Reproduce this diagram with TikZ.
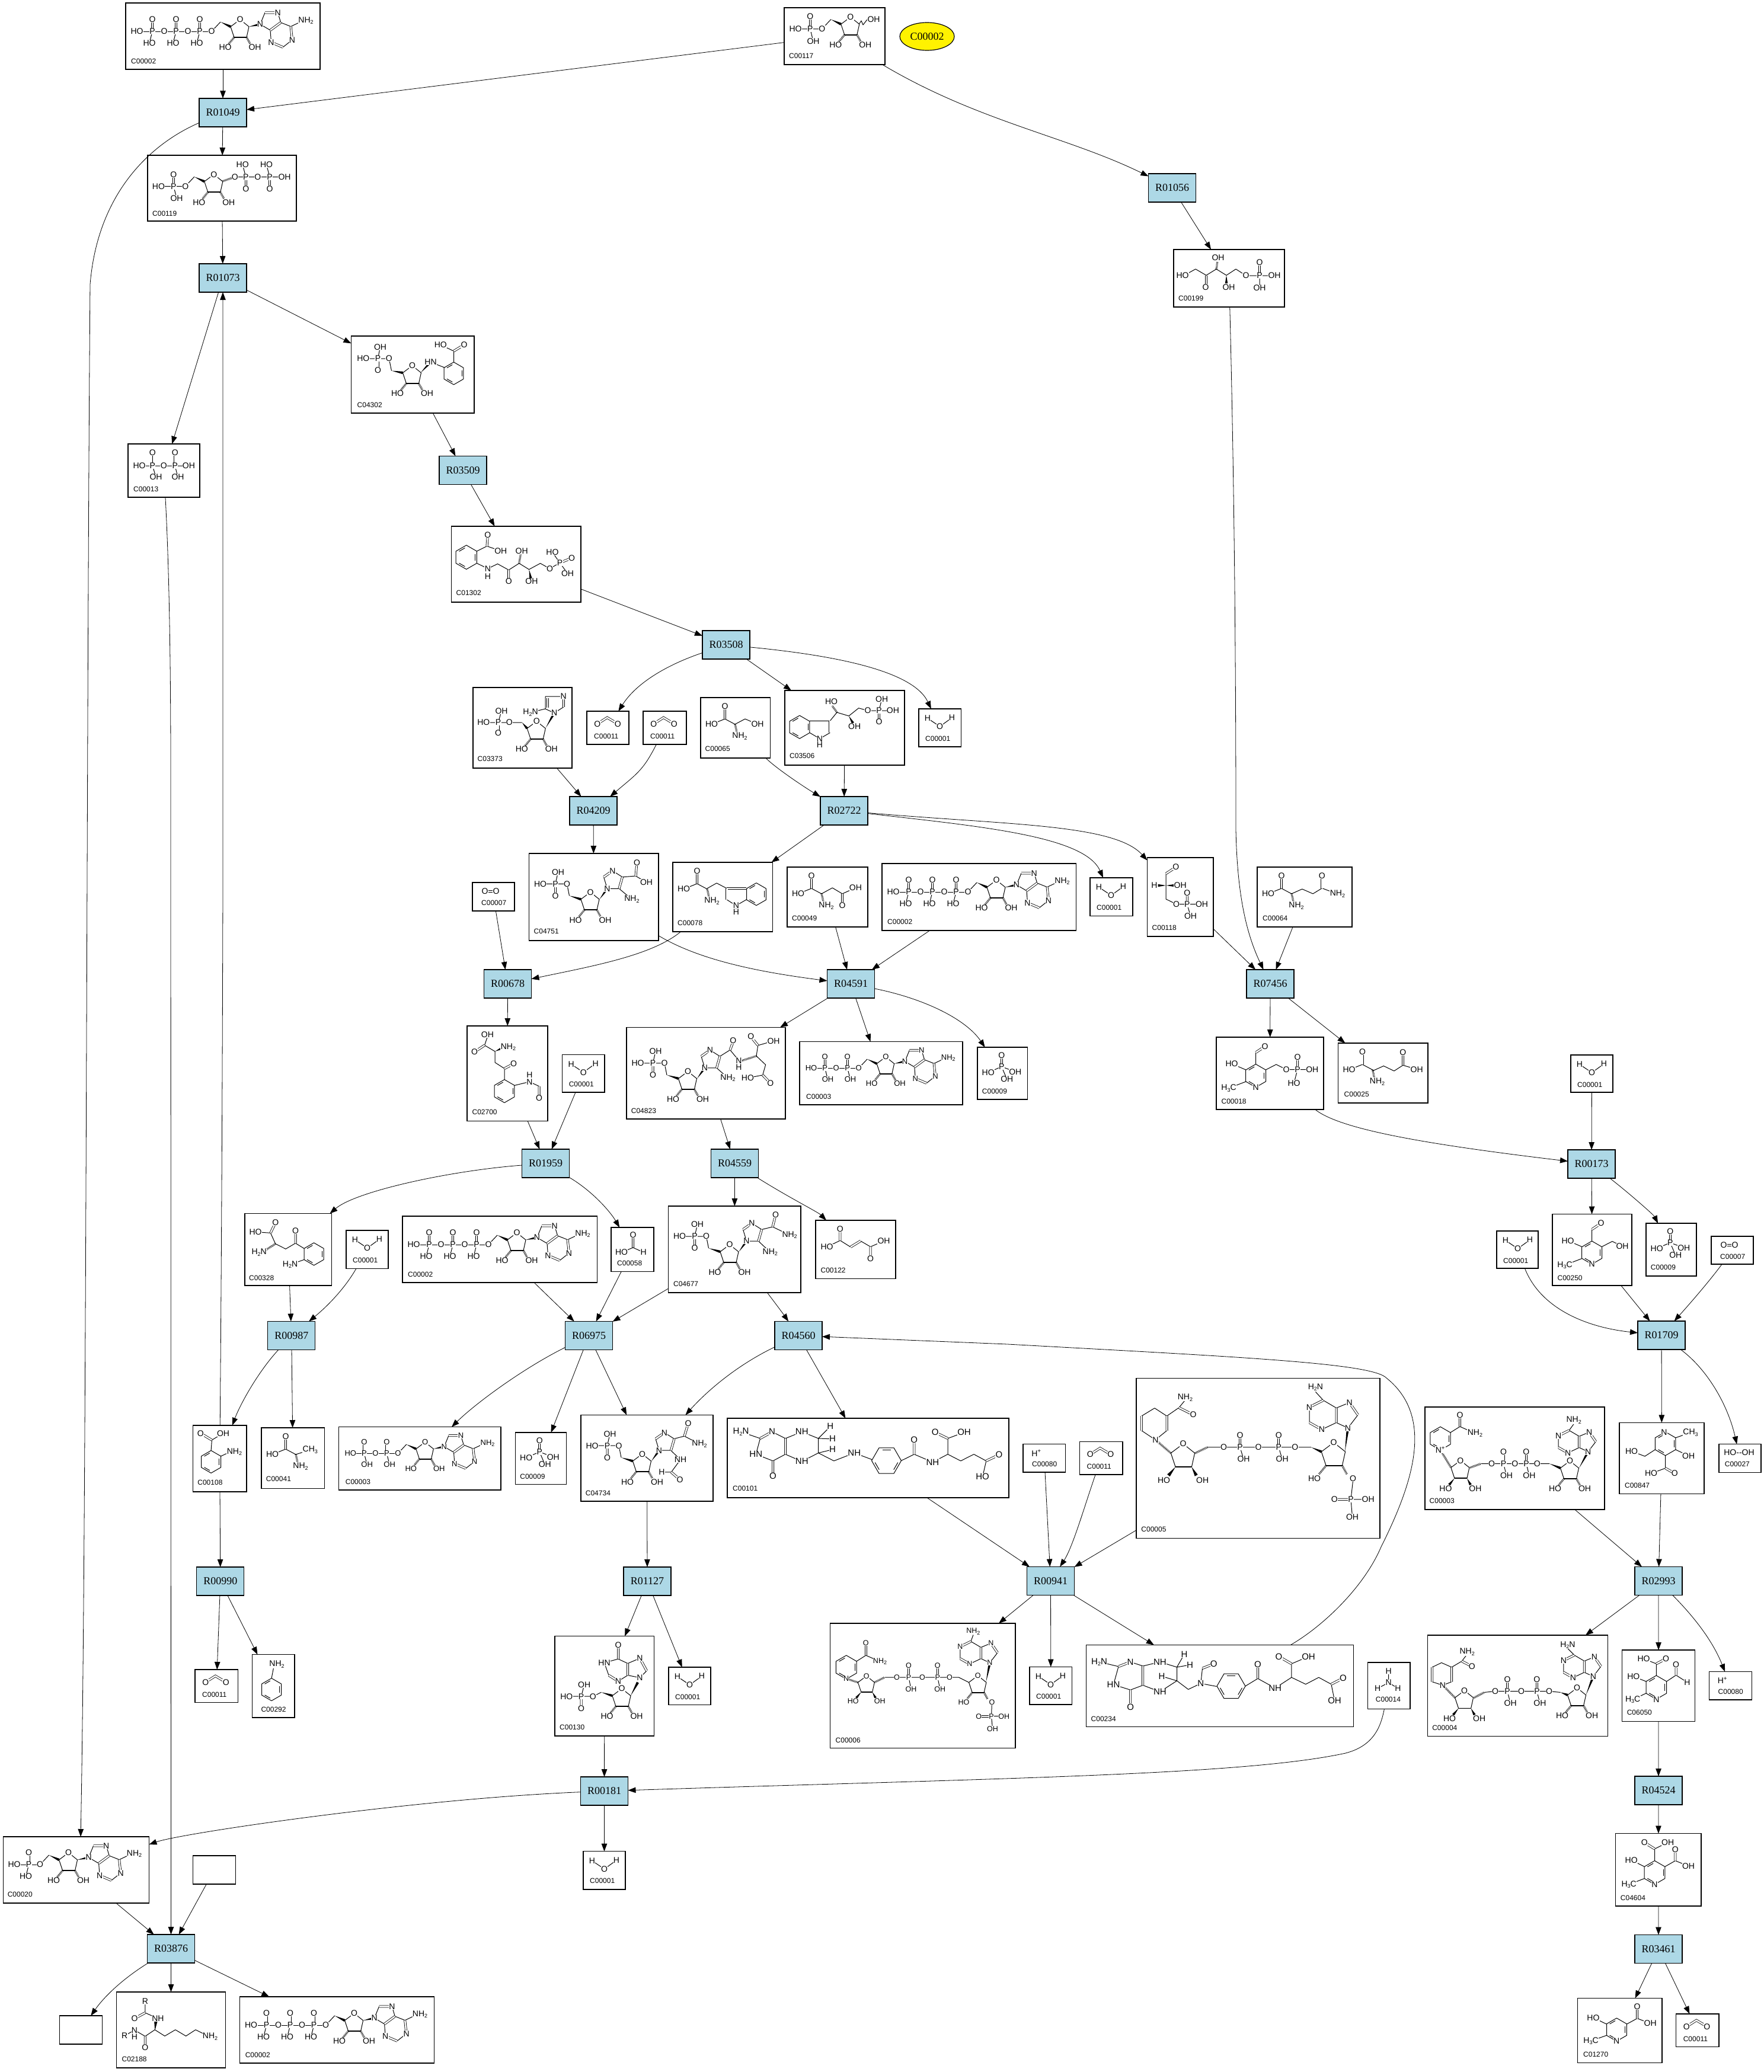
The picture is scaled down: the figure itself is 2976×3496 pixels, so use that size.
\documentclass[tikz,border=0pt]{standalone}
\usepackage{fontspec}
\usetikzlibrary{arrows.meta,calc,shapes.geometric}
\newfontfamily\atomfont{Liberation Sans}
\newfontfamily\rxnfont{Liberation Serif}
\def\atomsize{14}
\tikzset{
	rxn/.style={draw,line width=1.2pt,fill=lightblue,minimum width=80pt,minimum height=48pt,inner sep=0pt,outer sep=0pt,font=\rxnfont\fontsize{18}{18}\selectfont},
	cpd/.style={draw,line width=1.2pt,fill=white,inner sep=0pt,outer sep=0pt},
	atom/.style={fill=white,inner sep=.4pt,font=\atomfont\fontsize{\atomsize}{\atomsize}\selectfont},
	idlabel/.style={anchor=west,inner sep=0pt,font=\atomfont\fontsize{12}{12}\selectfont},
	bond/.style={line width=1pt,line join=round},
	dbond/.style={double,double distance=2.4pt,line width=.8pt},
	hashed/.style={line width=3.4pt,dash pattern=on .9pt off 1.3pt},
	link/.style={-{Triangle[length=13pt,width=9.5pt]},line width=.8pt}
}
\definecolor{lightblue}{HTML}{ADD8E6}
\newcommand{\sbs}[1]{\raisebox{-2.5pt}{\fontsize{9}{9}\selectfont #1}}
\newcommand{\nhh}{NH\sbs{2}}
\newcommand{\hhn}{H\sbs{2}N}
\newcommand{\hhhc}{H\sbs{3}C}
\newcommand{\chhh}{CH\sbs{3}}
\newcommand{\atoms}[1]{\foreach \ax/\ay/\at [count=\an] in {#1} \node[atom] (atom\an) at (\ax,\ay) {\at};}
\newcommand{\cid}[3]{\node[idlabel] (id#3) at (#1,#2) {#3};}
\newcommand{\wdg}[2]{\fill (#1) -- ($(#2)!2.2pt!90:(#1)$) -- ($(#2)!2.2pt!-90:(#1)$) -- cycle;}
\newcommand{\hsh}[2]{\draw[hashed] (#1) -- (#2);}
\newcommand{\hexring}[4]{\begin{scope}[shift={(#1,#2)}]
	\draw[bond] (#4:#3) -- (#4+60:#3) -- (#4+120:#3) -- (#4+180:#3) -- (#4+240:#3) -- (#4+300:#3) -- cycle;
	\foreach \ra in {0,120,240} \draw[bond] (#4+\ra+9:.78*#3) -- (#4+\ra+51:.78*#3);
	\end{scope}}
% P with =O above and a single bond below
\newcommand{\phos}[4]{
	\draw[dbond] (#1,#2) -- (#1,#2-20);
	\draw[bond] (#1,#2) -- (#1+#3,#2+20);
	\atoms{#1/#2/P,#1/#2-20/O,#1+#3/#2+20/#4}}
\newcommand{\ribring}[5]{\begin{scope}[shift={(#1,#2)},scale=#3]
	\draw[bond] (0,0) -- (16,-12) -- (31,0) -- (27,18) -- (6,18) -- cycle;
	\draw[line width=1.8pt] (6,18) -- (27,18);
	#4{6,18}{-3,29}
	#4{27,18}{33,29}
	\atoms{16/-12/O,-9/35/HO,41/35/#5}
	\end{scope}}
\newcommand{\ribo}[2]{\begin{scope}[shift={(#1,#2)}]
	\draw[bond] (0,0) -- (15,-16);
	\wdg{15,-16}{32,-8}
	\ribring{32}{-8}{1}{\hsh}{OH}
	\atoms{0/0/O}
	\end{scope}}
\newcommand{\adeR}[2]{\begin{scope}[shift={(#1,#2)}]
	\draw[bond] (0,0) -- (8,-19.7) (29.7,-19.7) -- (34.7,-3) (17,10) -- (0,0) (17,10) -- (18.5,30.3) (38.3,38.7) -- (54,26.3) (51.6,3.7) -- (34.7,-3) (51.6,3.7) -- (70,-5);
	\draw[dbond] (8,-19.7) -- (29.7,-19.7) (34.7,-3) -- (17,10) (18.5,30.3) -- (38.3,38.7) (54,26.3) -- (51.6,3.7);
	\atoms{0/0/N,29.7/-19.7/N,18.5/30.3/N,54/26.3/N,77/-6.3/\nhh}
	\end{scope}}
\newcommand{\adeU}[5]{\begin{scope}[shift={(#1,#2)},scale=#3]
	\draw[bond] (0,0) -- (13,-17) (2,-33) -- (-15,-26) (-15,-7) -- (0,0) (-15,-7) -- (-34,2) (-50,-7) -- (-50,-27) (-32,-36) -- (-15,-26) (-32,-36) -- (#4,-47);
	\draw[dbond] (13,-17) -- (2,-33) (-15,-26) -- (-15,-7) (-34,2) -- (-50,-7) (-50,-27) -- (-32,-36);
	\atoms{0/0/N,2/-33/N,-34/2/N,-50/-27/N,#4/-53/#5}
	\end{scope}}
\newcommand{\adenosine}[2]{\begin{scope}[shift={(#1,#2)}]
	\wdg{63,-8}{82,-12}
	\adeR{82}{-12}
	\end{scope}\ribo{#1}{#2}}
% phosphoribosyl part with the imidazole ring, y of P as argument
\newcommand{\ribotide}[1]{\begin{scope}[shift={(0,#1)}]
	\draw[bond] (19,0) -- (64,0) -- (68,20) (44.5,0) -- (49,-20) (132,8) -- (126,-11.5) (141,-22) -- (157.5,-11.5) (152,8) -- (132,8);
	\draw[dbond] (44.5,0) -- (44.5,20) (126,-11.5) -- (141,-22) (157.5,-11.5) -- (152,8);
	\wdg{68,20}{87.5,26}
	\ribring{87.5}{26}{1}{\hsh}{OH}
	\wdg{119,26}{132,8}
	\atoms{19/0/HO,44.5/0/P,49/-20/OH,44.5/20/O,64/0/O,132/8/N,141/-22/N}
	\end{scope}}
\newcommand{\aminoacid}{
	\draw[bond] (18.5,45) -- (41,36) -- (58,45);
	\draw[dbond] (41,36) -- (41,15);
	\hsh{58,45}{61,58}
	\atoms{18.5/45/HO,41/15/O,66/65/\nhh}}
% small molecules
\newcommand{\molWater}{
	\draw[bond] (15,16) -- (35.6,29.7) -- (56,15);
	\atoms{15/16/H,35.6/29.7/O,56/15/H}
	\cid{11}{50}{C00001}}
\newcommand{\molCOO}{
	\draw[dbond] (17.8,21.3) -- (34.4,10.7) -- (52.2,21.3);
	\atoms{17.8/21.3/O,52.2/21.3/O}
	\cid{12}{42}{C00011}}
\newcommand{\molOO}{
	\draw[dbond] (21,14.7) -- (40,14.7);
	\atoms{21/14.7/O,40/14.7/O}
	\cid{15}{34}{C00007}}
\newcommand{\molHplus}{
	\atoms{22.5/15/H\textsuperscript{+}}
	\cid{15}{33.5}{C00080}}
\newcommand{\molPeroxide}{
	\atoms{34/14.3/HO--OH}
	\cid{9.6}{33.5}{C00027}}
\newcommand{\molAmmonia}{
	\draw[bond] (35,15) -- (35,34) -- (16.5,43.7) (35,34) -- (50.8,43.7);
	\atoms{35/14.7/H,35/34/N,16.5/43.7/H,50.8/43.7/H}
	\cid{13}{62.5}{C00014}}
\newcommand{\molPi}{
	\draw[bond] (40.7,32.7) -- (18.2,42.5) (40.7,32.7) -- (63.8,41.3) (40.7,32.7) -- (49.8,54);
	\draw[dbond] (40.7,32.7) -- (40.7,13.8);
	\atoms{40.7/13.8/O,40.7/32.7/P,18.2/42.5/HO,63.8/41.3/OH,49.8/54/OH}
	\cid{7.7}{74}{C00009}}
\newcommand{\molFormate}{
	\draw[dbond] (37,12.5) -- (37,34);
	\draw[bond] (17.5,42) -- (37,34) -- (54.7,42);
	\atoms{37/12.5/O,17.5/42/HO,54.7/42/H}
	\cid{10}{60.7}{C00058}}
\newcommand{\molPPi}{
	\draw[bond] (19,37) -- (102.4,37) (41.4,37) -- (41.4,14.7) (41.4,37) -- (47,56) (79.3,37) -- (84,56);
	\draw[dbond] (79.3,37) -- (79.3,14.7);
	\atoms{19/37/HO,41.4/37/P,41.4/14.7/O,47/56/OH,60.3/37/O,79.3/37/P,79.3/14.7/O,84/56/OH,102.4/37/OH}
	\cid{9}{76}{C00013}}
% nucleotides
\newcommand{\molATP}{
	\draw[bond] (19,48) -- (145,48);
	\phos{45}{48}{-5}{HO}\phos{85}{48}{-5}{HO}\phos{125}{48}{-5}{HO}
	\atoms{19/48/HO,65/48/O,105/48/O}
	\adenosine{145}{48}
	\cid{9}{98}{C00002}}
\newcommand{\molADP}{
	\begin{scope}[scale=.95]\def\atomsize{13}
	\draw[bond] (20.6,47) -- (105,47);
	\phos{45}{47}{5}{OH}\phos{85}{47}{5}{OH}
	\atoms{20.6/47/HO,65/47/O}
	\adenosine{105}{47}
	\end{scope}
	\cid{11}{92.4}{C00003}}
\newcommand{\molAMP}{
	\draw[bond] (18.4,47) -- (62,47);
	\phos{43}{47}{-5}{HO}
	\atoms{18.4/47/HO}
	\adenosine{62}{47}
	\cid{7}{97}{C00020}}
\newcommand{\molRibP}{
	\draw[bond] (19,35.8) -- (63.8,35.8) (43.9,35.8) -- (49,56.8);
	\draw[dbond] (43.9,35.8) -- (43.9,14.7);
	\atoms{19/35.8/HO,43.9/35.8/P,43.9/14.7/O,49/56.8/OH}
	\ribo{63.8}{35.8}
	\draw[bond] (126,28) -- (130,22) -- (133,29) -- (140,20);
	\atoms{151/20/OH}
	\cid{8}{81.4}{C00117}}
\newcommand{\molPRPP}{
	\draw[bond] (18.4,52.3) -- (63.8,52.3) (43.9,52.3) -- (49,72.3);
	\draw[dbond] (43.9,52.3) -- (43.9,32.3);
	\atoms{18.4/52.3/HO,43.9/52.3/P,43.9/32.3/O,49/72.3/OH}
	\ribo{63.8}{52.3}
	\hsh{126,44}{147,36.7}
	\draw[bond] (147.4,36.7) -- (231,36.7) (165.8,36.7) -- (160.2,15.7) (206,36.7) -- (200.5,15.7);
	\draw[dbond] (165.8,36.7) -- (165.8,56.7) (206,36.7) -- (206,56.7);
	\atoms{147.4/36.7/O,165.8/36.7/P,160.2/15.7/HO,165.8/56.7/O,185.7/36.7/O,206/36.7/P,200.5/15.7/HO,206/56.7/O,231/36.7/OH}
	\cid{8}{98}{C00119}}
\newcommand{\molPRA}{
	\draw[bond] (20.3,38) -- (63.8,38) -- (68,58.5) (45,38) -- (49,18.3);
	\draw[dbond] (45,38) -- (45,57.6);
	\wdg{68,58.5}{87,62}
	\ribring{87}{62}{1}{\hsh}{OH}
	\wdg{117,62}{134,44}
	\draw[bond] (134,44) -- (157,53);
	\hexring{173}{63}{19}{90}
	\draw[bond] (173,44) -- (173,25.4) -- (150.8,14.7);
	\draw[dbond] (173,25.4) -- (190.5,14.7);
	\atoms{20.3/38/HO,45/38/P,49/18.3/OH,45/57.6/O,63.8/38/O,134/44/HN,150.8/14.7/HO,190.5/14.7/O}
	\cid{10}{116.5}{C04302}}
\newcommand{\molCDRP}{
	\hexring{25.3}{52.2}{20.3}{90}
	\draw[bond] (42.9,42) -- (60,33.5) -- (83.3,41.5) (42.9,62.3) -- (61.4,71.4) -- (78,63.4) -- (96.7,73.7) -- (114.3,62.5) -- (131,72.8) -- (150,62.5) -- (166,71.4) -- (183,61.6) -- (170.4,43.8) (183,61.6) -- (196,79.5);
	\draw[dbond] (60,33.5) -- (61.4,14.7) (96.7,73.7) -- (96.7,92.9) (183,61.6) -- (203,53.6);
	\hsh{114.3,62.5}{117,46}
	\wdg{131,72.8}{134,88}
	\atoms{61.4/14.7/O,83.3/41.5/OH,61.4/71.4/N,61.4/84.8/H,96.7/92.9/O,118.7/41.5/OH,135.4/92.9/OH,166/71.4/O,183/61.6/P,170.4/43.8/HO,203/53.6/O,196/79.5/OH}
	\cid{8}{112.5}{C01302}}
\newcommand{\molAIRP}{
	\draw[bond] (17.8,59) -- (82.7,59) (42.5,59) -- (48,39.7) (122,36) -- (137,43) (122,36) -- (122,15) (122,15) -- (152.7,15) (152.7,33) -- (137,43) (122,36) -- (97,42);
	\draw[dbond] (42.5,59) -- (42.5,77) (152.7,15) -- (152.7,33) (126,18) -- (126,34);
	\wdg{82.7,59}{91.3,69}
	\ribring{91.3}{69}{1}{\hsh}{OH}
	\wdg{122.8,68}{137,43}
	\atoms{17.8/59/HO,42.5/59/P,48/39.7/OH,42.5/77/O,61.4/59/O,137.2/43/N,97/42/\hhn,152.7/14.7/N}
	\cid{7.5}{120.7}{C03373}}
\newcommand{\molIGP}{
	\hexring{25}{61.7}{19.5}{90}
	\draw[bond] (42,51.3) -- (76.3,51.3) (76.3,71.3) -- (59,81.3) -- (42,71.3) (76.3,51.3) -- (88,37) -- (108,43) -- (124.6,29.7) -- (140,34) -- (182.4,34) (159,34) -- (163.6,14.7) (59,81.3) -- (59,92);
	\draw[dbond] (76.3,51.3) -- (76.3,71.3) (159,34) -- (159,53);
	\hsh{88,37}{80,26}
	\wdg{108,43}{115,55}
	\atoms{59/81.3/N,59/92/H,78.5/19/HO,117.7/60.7/OH,140/34/O,159/34/P,163.6/14.7/OH,182.4/34/OH,159/53/O}
	\cid{8}{110.7}{C03506}}
\newcommand{\molSer}{
	\draw[bond] (58,45) -- (75,36) -- (96,45);
	\aminoacid
	\atoms{96/45/OH}
	\cid{7.5}{86.7}{C00065}}
\newcommand{\molTrp}{
	\draw[bond] (58,44) -- (74,35) -- (91.3,44) (91.3,63) -- (106.8,73) -- (124,63) (106.8,73) -- (106.8,84);
	\draw[dbond] (91.3,44) -- (91.3,63) (91.3,44) -- (124,44);
	\hexring{141}{53.7}{19}{90}
	\aminoacid
	\atoms{106.8/73/N,106.8/84/H}
	\cid{8}{102.7}{C00078}}
\newcommand{\molAsp}{
	\draw[bond] (58,45) -- (76.3,35) -- (93,45) -- (115.4,35);
	\draw[dbond] (93,45) -- (93,64.3);
	\aminoacid
	\atoms{115.4/35/OH,93/64.3/O}
	\cid{8}{86.7}{C00049}}
\newcommand{\molGln}{
	\draw[bond] (58,45) -- (75.8,37) -- (94,45) -- (109.4,35.6) -- (135.4,45.4);
	\draw[dbond] (109.4,35.6) -- (109.4,15);
	\aminoacid
	\atoms{109.4/15/O,135.4/45.4/\nhh}
	\cid{9}{86.7}{C00064}}
\newcommand{\molGlu}{
	\draw[bond] (58,47) -- (76.8,38.5) -- (94.4,47) -- (109.4,37.3) -- (132.6,44.2);
	\draw[dbond] (109.4,37.3) -- (109.4,15.5);
	\aminoacid
	\atoms{109.4/15.5/O,132.6/44.2/OH}
	\cid{10}{86.7}{C00025}}
\newcommand{\molAla}{
	\draw[bond] (58,45) -- (82.3,37.3);
	\aminoacid
	\atoms{82.3/37.3/\chhh}
	\cid{7.7}{86.7}{C00041}}
\newcommand{\molGAP}{
	\draw[bond] (31.6,27) -- (31.6,70) -- (49,78.6) -- (92,78.6) (67.3,78.6) -- (73,98.7);
	\draw[dbond] (31.6,27) -- (48.4,16) (67.3,78.6) -- (67.3,59.7);
	\wdg{31.6,47}{18,47}
	\wdg{31.6,47}{46,47}
	\atoms{48.4/16/O,12/47/H,55.6/47/OH,49/78.6/O,67.3/78.6/P,67.3/59.7/O,92/78.6/OH,73/98.7/OH}
	\cid{8}{118.8}{C00118}}
\newcommand{\molPLP}{
	\hexring{66.6}{65}{19.5}{90}
	\draw[bond] (66.6,45.5) -- (66.6,25.8) (49.7,55) -- (26,44.8) (49.7,75) -- (21,86) (83.5,55) -- (101,46) -- (118,54.5) -- (161.8,54.5) (137,54.5) -- (131,77.5);
	\draw[dbond] (66.6,25.8) -- (82,15.5) (137,54.5) -- (137,33.3);
	\atoms{82/15.5/O,26/44.8/HO,21/86/\hhhc,66.6/84.5/N,118/54.5/O,137/54.5/P,137/33.3/O,161.8/54.5/OH,131/77.5/HO}
	\cid{8.4}{108}{C00018}}
\newcommand{\molPyridoxal}{
	\hexring{66.6}{65}{19.5}{90}
	\draw[bond] (66.6,45.5) -- (66.6,25.8) (49.7,55) -- (26,44.8) (49.7,75) -- (21,86) (83.5,55) -- (101,46) -- (115,53);
	\draw[dbond] (66.6,25.8) -- (82,15.5);
	\atoms{82/15.5/O,26/44.8/HO,21/86/\hhhc,66.6/84.5/N,118/54.5/OH}
	\cid{8.4}{108}{C00250}}
\newcommand{\molPdxAcid}{
	\hexring{77.6}{35.5}{20}{90}
	\draw[bond] (94.9,25.5) -- (120,16.5) (94.9,45.5) -- (116.7,55.8) (60.3,45.5) -- (43,56.7) -- (20.6,48.2) (77.6,55.5) -- (77.6,76.8) -- (53.5,85.7);
	\draw[dbond] (77.6,76.8) -- (93.4,85.7);
	\atoms{75.5/16.5/N,120/16.5/\chhh,116.7/55.8/OH,20.6/48.2/HO,53.5/85.7/HO,93.4/85.7/O}
	\cid{8.9}{105.8}{C00847}}
\newcommand{\molFormylAcid}{
	\hexring{57.7}{63}{20}{90}
	\draw[bond] (57.7,43) -- (57.7,23.2) -- (36.4,14.7) (40.4,53) -- (19.2,44.6) (40.4,73) -- (18,83.5) (75,53) -- (91,42.4) -- (109.8,54.5);
	\draw[dbond] (57.7,23.2) -- (74,14.7) (91,42.4) -- (91,24.6);
	\atoms{36.4/14.7/HO,74/14.7/O,19.2/44.6/HO,18/83.5/\hhhc,57.7/83.5/N,91/24.6/O,109.8/54.5/H}
	\cid{8}{105.8}{C06050}}
\newcommand{\molDicarb}{
	\hexring{65.8}{66}{20}{90}
	\draw[bond] (65.8,46) -- (65.8,26) -- (87.9,15.2) (48.5,56) -- (26.5,45) (48.5,76) -- (22.4,86) (83.1,56) -- (100.7,46) -- (122.8,55);
	\draw[dbond] (65.8,26) -- (48.5,15.2) (100.7,46) -- (100.7,27);
	\atoms{48.5/15.2/O,87.9/15.2/OH,26.5/45/HO,22.4/86/\hhhc,65.8/86/N,100.7/27/O,122.8/55/OH}
	\cid{8}{108.7}{C04604}}
\newcommand{\molHMP}{
	\hexring{66}{53}{19.5}{90}
	\draw[bond] (49,43.7) -- (26.5,32.7) (49,62.7) -- (22.6,72) (83,43.7) -- (100.7,34) -- (122.8,42.6);
	\draw[dbond] (100.7,34) -- (100.7,14.4);
	\atoms{26.5/32.7/HO,22.6/72/\hhhc,65.8/72/N,100.7/14.4/O,122.8/42.6/OH}
	\cid{9.6}{95}{C01270}}
\newcommand{\molKyn}{
	\draw[bond] (34.4,18) -- (29.5,32.6) -- (47,43) -- (47,61.6) -- (63,71.9) -- (63,90.6) (80,100.4) -- (105.3,94.2) -- (121.5,101.8);
	\draw[dbond] (29.5,32.6) -- (12.6,43.8) (63,71.9) -- (78.6,63.8) (121.5,101.8) -- (121.5,121.9);
	\wdg{47,43}{60,37}
	\hexring{63}{110}{19.5}{90}
	\atoms{34.4/14.3/OH,12.6/43.8/O,69.4/35.7/\nhh,78.6/63.8/O,105.3/94.2/N,105.3/82.6/H,121.5/121.9/O}
	\cid{8.4}{145}{C02700}}
\newcommand{\molAPAldo}{
	\draw[bond] (18,31) -- (43.4,32.7) -- (51.7,51) -- (69,59.7) -- (85.5,50) (85.5,50) -- (99.9,58.8) (100,77.8) -- (76.5,86);
	\draw[dbond] (43.4,32.7) -- (51.7,15.5) (85.5,50) -- (85.5,28.7);
	\hsh{51.7,51}{36,61}
	\hexring{116.6}{68.3}{19}{90}
	\atoms{51.7/15.5/O,18/31/HO,24.2/65.4/\hhn,85.5/28.7/O,76.5/86/\hhn}
	\cid{7}{108.5}{C00328}}
\newcommand{\molAnthranilate}{
	\draw[bond] (30.6,42.4) -- (31.9,24.7) -- (51,13.2) (47,52) -- (60,46);
	\draw[dbond] (31.9,24.7) -- (12.8,13.2);
	\hexring{30.6}{61.4}{19}{90}
	\atoms{12.8/13.2/O,51/13.2/OH,70/44.8/\nhh}
	\cid{7.7}{96.4}{C00108}}
\newcommand{\molFumarate}{
	\draw[bond] (19,45) -- (41.4,34) -- (59,45) (75.8,34.8) -- (92.6,44.6) -- (115,34.8);
	\draw[dbond] (41.4,34) -- (41.4,14.7) (59,45) -- (75.8,34.8) (92.6,44.6) -- (92.6,64.7);
	\atoms{41.4/14.7/O,19/45/HO,115/34.8/OH,92.6/64.7/O}
	\cid{8.4}{84.8}{C00122}}
\newcommand{\molAniline}{
	\draw[bond] (32.5,40) -- (36,22);
	\hexring{32.5}{59}{19}{90}
	\atoms{41.5/16.6/\nhh}
	\cid{14.7}{92.4}{C00292}}
\newcommand{\molSAICAR}{
	\draw[bond] (157.5,48.8) -- (174.7,38) -- (189.4,55.8) (152,68.3) -- (171,85.3) (221.7,30.4) -- (219,48.2) -- (234.6,63) -- (229.7,80.4) -- (204.4,85.3) (221.7,30.4) -- (248,22.8);
	\draw[dbond] (174.7,38) -- (179.7,24.6) (221.7,30.4) -- (209.8,15.6) (229.7,80.4) -- (242.7,93.8);
	\ribotide{60.3}
	\hsh{219,48.2}{195,56}
	\atoms{179.7/22/O,189.4/55.8/N,189.4/67.4/H,171/85.3/\nhh,209.8/15.6/O,248/22.8/OH,204.4/85.3/HO,242.7/93.8/O}
	\cid{7.7}{140.6}{C04823}}
\newcommand{\molAICARP}{
	\draw[bond] (157.5,39.5) -- (176,35) -- (204.6,48.7) (152,59) -- (171.8,77.7);
	\draw[dbond] (176,35) -- (181,15);
	\ribotide{51}
	\atoms{181/15/O,204.6/48.7/\nhh,171.8/77.7/\nhh}
	\cid{8.4}{131.7}{C04677}}
\newcommand{\molCAIR}{
	\draw[bond] (157.5,39.8) -- (180,38) -- (198,48.7) (152,59.3) -- (173.4,77.3);
	\draw[dbond] (180,38) -- (182,15.7);
	\ribotide{51.3}
	\atoms{182/15.7/O,198/48.7/OH,173.4/77.3/\nhh}
	\cid{8}{131.7}{C04751}}
\newcommand{\molFAICAR}{
	\draw[bond] (157.5,40) -- (174.6,35.6) -- (200,48.8) (152,60) -- (168,75.2) -- (152.4,96.4) -- (136.5,96.4);
	\draw[dbond] (174.6,35.6) -- (181,14.4) (152.4,96.4) -- (167,109);
	\ribotide{51.7}
	\atoms{181/14.4/O,200/48.8/\nhh,168/75.2/NH,136.5/96.4/H,167/109/O}
	\cid{7.7}{132}{C04734}}
\newcommand{\molIMP}{
	\draw[bond] (107,38.5) -- (83.5,44.8) -- (91,66) (107,76) -- (123,66) (123,46) -- (107,38.5) (123,46) -- (143.5,37.3) (155,58.5) -- (143.5,70) -- (123,66) (19.8,101.6) -- (64.4,101.6) -- (78.4,94.7) (44.6,101.6) -- (49.7,82);
	\draw[dbond] (91,66) -- (107,76) (123,66) -- (123,46) (107,38.5) -- (107,15.5) (143.5,37.3) -- (155,58.5) (44.6,101.6) -- (44.6,121.7);
	\wdg{78.4,94.7}{97,100.5}
	\ribring{97}{100.5}{1}{\hsh}{OH}
	\wdg{128,100.5}{140,78}
	\atoms{107/15.5/O,83.5/44.8/HN,107/76/N,143.5/37.3/N,143.5/70/N,49.7/82/OH,19.8/101.6/HO,44.6/101.6/P,44.6/121.7/O,64.4/101.6/O}
	\cid{8}{154}{C00130}}
\newcommand{\molLysR}{
	\draw[bond] (48.5,18) -- (48.5,35) -- (70,44.7) (70,44.7) -- (64.8,63.7) (64.8,63.7) -- (48.5,74.7) -- (30.6,64.3) -- (13.8,73.7) (64.8,63.7) -- (81.6,74.3) -- (99.5,63.7) -- (117.3,74.3) -- (133.6,63.7) -- (150,72);
	\draw[dbond] (48.5,35) -- (30.6,44.7) (48.5,74.7) -- (48.5,93.7);
	\wdg{64.8,63.7}{66,50}
	\atoms{48.5/15.3/R,30.6/44.7/O,70/44.7/NH,48.5/93.7/O,30.6/64.3/N,30.6/75.3/H,13.8/73.7/R,158.2/75.3/\nhh}
	\cid{9}{113.7}{C02188}}
\newcommand{\molTHF}{\def\atomsize{15}
	\draw[bond] (23,22.8) -- (55.5,34) (75.5,22.8) -- (98,34) (98,60.7) -- (77,71.9) -- (48.3,60.7) -- (55.5,34) (98,34) -- (125.8,22.8) -- (153.6,34) -- (173.7,13.8) (153.6,34) -- (177.5,34.8) (153.6,34) -- (153.6,58.5) -- (177.5,52.7) (153.6,58.5) -- (125.8,72.8) -- (98,60.7) (153.6,58.5) -- (179.9,71.9) -- (214.3,58.5) -- (244,69.6) (293.5,71.5) -- (315.3,60.7) -- (346.4,74) -- (372,60.7) -- (372,34) -- (399.5,23.7) (372,60.7) -- (393.8,71.9) -- (416,60.7) -- (436.8,71.9) -- (430.6,98.7);
	\draw[dbond] (55.5,34) -- (75.5,22.8) (98,34) -- (98,60.7) (77,71.9) -- (77,97.8) (315.3,60.7) -- (315.3,36) (372,34) -- (350.7,23.7) (436.8,71.9) -- (458.4,61.6);
	\hexring{268.5}{71.5}{25}{0}
	\atoms{23/22.8/\hhn,75.5/22.8/N,48.3/60.7/HN,77/97.8/O,125.8/22.8/NH,125.8/72.8/NH,173.7/13.8/H,177.5/34.8/H,177.5/52.7/H,214.3/58.5/NH,315.3/36/O,346.4/74/NH,350.7/23.7/O,399.5/23.7/OH,458.4/61.6/O,430.6/98.7/HO}
	\cid{9}{118.8}{C00101}}
\newcommand{\molFTHF}{\def\atomsize{15}
	\draw[bond] (22,28.7) -- (54.5,36.4) (74.6,28.7) -- (95.7,35.6) (95.7,68) -- (74.6,75.9) -- (46,67) -- (54.5,36.4) (95.7,35.6) -- (124.4,28.7) -- (153,37.5) -- (165.5,15.7) (153,37.5) -- (175,33.7) (153,37.5) -- (153,60.5) -- (127.6,52.9) (153,60.5) -- (124.4,79) -- (95.7,68) (153,60.5) -- (172.2,75) -- (193.3,65) -- (220,70) (193.3,65) -- (196,39.5) (268.5,69.5) -- (289.5,56.7) -- (318.7,72.8) -- (346.4,54.8) -- (346.4,31.8) -- (375,19.5) (346.4,54.8) -- (370.3,66.3) -- (392.3,54.8) -- (413.4,66.3) -- (419,93.9);
	\draw[dbond] (54.5,36.4) -- (74.6,28.7) (95.7,35.6) -- (95.7,68) (74.6,75.9) -- (74.6,104.6) (196,39.5) -- (215.3,31.8) (289.5,56.7) -- (289.5,33) (346.4,31.8) -- (325,19.5) (413.4,66.3) -- (433.5,56);
	\hexring{244.5}{69.5}{24}{0}
	\atoms{22/28.7/\hhn,74.6/28.7/N,46/67/HN,74.6/104.6/O,124.4/28.7/NH,124.4/79/NH,165.5/15.7/H,175/33.7/H,127.6/52.9/H,193.3/65/N,215.3/31.8/O,289.5/33/O,318.7/72.8/NH,325/19.5/O,375/19.5/OH,433.5/56/O,419/93.9/OH}
	\cid{8}{125}{C00234}}
\newcommand{\molNAD}{
	\hexring{26}{53}{19.7}{90}
	\draw[bond] (43,43) -- (59,33) -- (84.4,44.2) (94.7,95.5) -- (210,95.5);
	\draw[dbond] (59,33) -- (59,13.8);
	\hsh{26,72.3}{43.9,102.2}
	\ribring{43.9}{102.2}{1}{\wdg}{OH}
	\hsh{76.2,102.2}{94.7,95.5}
	\phos{132.5}{95.5}{5}{OH}\phos{170.9}{95.5}{5}{OH}
	\wdg{210,95.5}{228.5,103}
	\ribring{228.5}{103}{1}{\hsh}{OH}
	\wdg{260,103}{275.2,75.4}
	\adeU{275.2}{75.4}{1}{-24}{\nhh}
	\atoms{59/13.8/O,84.4/44.2/\nhh,26/72.3/N\textsuperscript{+},112.6/95.5/O,151.7/95.5/O,189.4/95.5/O}
	\cid{7.5}{158}{C00003}}
\newcommand{\molNADH}{
	\draw[bond] (23.3,46.4) -- (40.4,54) (40.4,78.6) -- (25.4,84.4) -- (7.5,78.6) (7.5,54) -- (23.3,46.4) (40.4,54) -- (57.6,43.8) -- (66.6,32) (95.5,96.4) -- (114,94.6) -- (205,94.6) -- (224,96.4);
	\draw[dbond] (40.4,54) -- (40.4,78.6) (7.5,78.6) -- (7.5,54) (57.6,43.8) -- (74.8,52.7);
	\hsh{25.4,84.4}{46,105.4}
	\ribring{46}{105.4}{1}{\wdg}{OH}
	\hsh{78.3,105.4}{95.5,96.4}
	\phos{134.5}{94.6}{5}{OH}\phos{184.3}{94.6}{5}{OH}
	\wdg{224,96.4}{236,100.9}
	\ribring{236}{100.9}{1}{\hsh}{OH}
	\wdg{267,100.9}{279.3,69.6}
	\adeU{279.3}{69.6}{1}{-43}{\hhn}
	\atoms{66.6/28/\nhh,74.8/52.7/O,25.4/84.4/N,114/94.6/O,158/94.6/O,205/94.6/O}
	\cid{7.5}{156.7}{C00004}}
\newcommand{\molNADPH}{
	\draw[bond] (30.9,50.4) -- (51.5,63.8) (51.5,88.4) -- (32.3,104) -- (8.9,88.4) (8.9,63.8) -- (30.9,50.4) (51.5,63.8) -- (72,49.6) -- (82.4,37) (120,116.5) -- (295,116.5) (365.6,172) -- (362,204.5) -- (391.2,204.5) (362,204.5) -- (364.5,234.4);
	\draw[dbond] (51.5,63.8) -- (51.5,88.4) (8.9,88.4) -- (8.9,63.8) (72,49.6) -- (96,61.6) (362,204.5) -- (334.3,204.5);
	\hsh{32.3,104}{58.3,126.3}
	\ribring{58.3}{126.3}{1.3}{\wdg}{OH}
	\hsh{99.5,126.3}{120,116.5}
	\phos{175}{116.5}{6}{OH}\phos{240.2}{116.5}{6}{OH}
	\wdg{295,116.5}{312.3,124}
	\ribring{312.3}{124}{1.3}{\hsh}{O}
	\wdg{352,124}{357,84}
	\adeU{357}{84}{1.3}{-42}{\hhn}
	\atoms{82.4/32.6/\nhh,96/61.6/O,32.3/104/N,147.6/116.5/O,206/116.5/O,267.7/116.5/O,362/204.5/P,334.3/204.5/O,391.2/204.5/OH,364.5/234.4/OH}
	\cid{8.2}{254.5}{C00005}}
\newcommand{\molNADP}{\def\atomsize{12.5}
	\hexring{27.3}{74}{20}{90}
	\draw[bond] (44.5,64) -- (60.3,54) -- (84,64.3) (92.3,91) -- (216.7,91) -- (234,99.6) (273,132) -- (272,156.7) -- (293.3,156.7) (272,156.7) -- (274,178);
	\draw[dbond] (60.3,54) -- (60.3,33) (272,156.7) -- (250.6,156.7);
	\hsh{27,93.3}{46.9,99.6}
	\ribring{46.9}{99.6}{.9}{\wdg}{OH}
	\hsh{74.6,99.6}{92.3,91}
	\phos{132.5}{91}{4}{OH}\phos{181.3}{91}{4}{OH}
	\ribring{234}{99.6}{.95}{\hsh}{O}
	\wdg{263,99}{269.4,66.5}
	\adeU{269.4}{66.5}{1}{-28}{\nhh}
	\atoms{60.3/33/O,84/64.3/\nhh,27/93.3/N,112.4/91/O,155.5/91/O,201.4/91/O,272/156.7/P,250.6/156.7/O,293.3/156.7/OH,274/178/OH}
	\cid{9}{197}{C00006}}
% box with its molecule: name, corners, drawing
\newcommand{\cpdbox}[6]{
	\pgfmathsetmacro{\boxw}{#4-#2}\pgfmathsetmacro{\boxh}{#5-#3}
	\node[cpd,minimum width=\boxw pt,minimum height=\boxh pt,anchor=north west] (#1) at (#2,#3) {};
	\begin{scope}[shift={(#1.north west)}]#6\end{scope}}
\begin{document}
\begin{tikzpicture}[x=1pt,y=-1pt]
	\useasboundingbox (0,0) rectangle (2976,3496);
	% compounds
	\cpdbox{C00002a}{212}{5}{540}{117}{\molATP}
	\cpdbox{C00002b}{1488}{1457}{1815.6}{1570}{\molATP}
	\cpdbox{C00002c}{679}{2052}{1007.6}{2164}{\molATP}
	\cpdbox{C00002d}{404.6}{3369}{732.6}{3481}{\molATP}
	\cpdbox{C00117}{1323}{13}{1493}{109}{\molRibP}
	\cpdbox{C00119}{249}{262}{500}{373}{\molPRPP}
	\cpdbox{C00199}{1980}{421}{2167}{518}{
		\draw[bond] (18,43.5) -- (37,33) -- (55,43.5) -- (72,33) -- (89,43.5) -- (105,33) -- (122,44) -- (170,44) (145,44) -- (145,64);
		\draw[dbond] (55,43.5) -- (55,63.5) (145,44) -- (145,23);
		\hsh{72,33}{74,20}
		\wdg{89,43.5}{89,57}
		\atoms{15/43.5/HO,54/63.5/O,75/13.7/OH,93/63.5/OH,122/44/O,145/44/P,145/22/O,170/44/OH,145/65/OH}
		\cid{8}{82}{C00199}}
	\cpdbox{C04302}{592.5}{567}{800}{697}{\molPRA}
	\cpdbox{C00013}{216}{749}{337}{839}{\molPPi}
	\cpdbox{C01302}{761.5}{888}{980}{1016}{\molCDRP}
	\cpdbox{C03373}{798}{1160}{965}{1296}{\molAIRP}
	\cpdbox{C00011a}{990}{1200}{1061}{1256}{\molCOO}
	\cpdbox{C00011b}{1085}{1200}{1158}{1256}{\molCOO}
	\cpdbox{C00065}{1182}{1177}{1299.5}{1279}{\molSer}
	\cpdbox{C03506}{1324}{1165}{1526}{1291}{\molIGP}
	\cpdbox{C00001a}{1550}{1196}{1621.5}{1260}{\molWater}
	\cpdbox{C04751}{892.5}{1440}{1111}{1587}{\molCAIR}
	\cpdbox{C00078}{1135}{1455}{1303.5}{1572}{\molTrp}
	\cpdbox{C00049}{1328}{1463}{1464}{1564}{\molAsp}
	\cpdbox{C00007a}{797}{1489}{868}{1537}{\molOO}
	\cpdbox{C00001b}{1839}{1481}{1911}{1545.5}{\molWater}
	\cpdbox{C00118}{1935.5}{1447}{2047}{1580}{\molGAP}
	\cpdbox{C00064}{2121}{1463}{2281}{1564}{\molGln}
	\cpdbox{C00018}{2052}{1750}{2233}{1872}{\molPLP}
	\cpdbox{C00025}{2257.5}{1760}{2409}{1861}{\molGlu}
	\cpdbox{C00001c}{2650}{1780}{2721}{1843}{\molWater}
	\cpdbox{C02700}{788}{1731}{924}{1891.5}{\molKyn}
	\cpdbox{C00001d}{948.6}{1779.5}{1020}{1843}{\molWater}
	\cpdbox{C04823}{1057}{1733.5}{1325}{1888}{\molSAICAR}
	\cpdbox{C00003a}{1349}{1757.6}{1624}{1864}{\molADP}
	\cpdbox{C00009a}{1649}{1767}{1733.5}{1855}{\molPi}
	\cpdbox{C00328}{413}{2047.6}{559.6}{2169}{\molAPAldo}
	\cpdbox{C00001e}{584}{2076}{655}{2140.6}{\molWater}
	\cpdbox{C00058}{1031}{2071}{1103}{2145.5}{\molFormate}
	\cpdbox{C04677}{1127.5}{2035}{1351}{2181}{\molAICARP}
	\cpdbox{C00122}{1376}{2059}{1511}{2157.6}{\molFumarate}
	\cpdbox{C00250}{2619}{2048.5}{2753}{2169}{\molPyridoxal}
	\cpdbox{C00009c}{2777}{2064}{2862}{2153}{\molPi}
	\cpdbox{C00001i}{2525}{2077}{2595}{2140}{\molWater}
	\cpdbox{C00007b}{2887}{2086}{2958}{2133}{\molOO}
	\cpdbox{C00108}{325.5}{2405}{416}{2517}{\molAnthranilate}
	\cpdbox{C00041}{441}{2409}{547.4}{2511.5}{\molAla}
	\cpdbox{C00003b}{571.7}{2407.6}{845}{2514}{\molADP}
	\cpdbox{C00009b}{869.5}{2417}{955.6}{2504.6}{\molPi}
	\cpdbox{C04734}{980}{2387.5}{1203}{2533}{\molFAICAR}
	\cpdbox{C00101}{1227}{2393}{1702}{2527}{\molTHF}
	\cpdbox{C00080a}{1726}{2436.6}{1797.6}{2484}{\molHplus}
	\cpdbox{C00011d}{1821.5}{2432.6}{1894}{2488}{\molCOO}
	\cpdbox{C00005}{1917}{2325.4}{2328}{2595.5}{\molNADPH}
	\cpdbox{C00003c}{2404}{2374}{2707}{2547}{\molNAD}
	\cpdbox{C00847}{2732}{2400.4}{2875}{2520.5}{\molPdxAcid}
	\cpdbox{C00027}{2900}{2436.6}{2971}{2484.4}{\molPeroxide}
	\cpdbox{C00011c}{329}{2817}{401.4}{2872.6}{\molCOO}
	\cpdbox{C00292}{425.6}{2791.6}{497}{2898}{\molAniline}
	\cpdbox{C00130}{936}{2760.6}{1103.6}{2929}{\molIMP}
	\cpdbox{C00001f}{1128}{2813}{1199}{2876.6}{\molWater}
	\cpdbox{C00006}{1400.5}{2739}{1713}{2949.5}{\molNADP}
	\cpdbox{C00001g}{1737}{2812.5}{1808.6}{2876}{\molWater}
	\cpdbox{C00234}{1832.5}{2775.4}{2283.6}{2913.4}{\molFTHF}
	\cpdbox{C00014}{2307.7}{2805}{2379}{2883.5}{\molAmmonia}
	\cpdbox{C00004}{2408.6}{2759}{2712.6}{2929.5}{\molNADH}
	\cpdbox{C06050}{2736.6}{2784}{2859.5}{2904.5}{\molFormylAcid}
	\cpdbox{C00080b}{2883.5}{2820.5}{2955.6}{2868}{\molHplus}
	\cpdbox{C00001h}{984}{3123.7}{1055}{3188}{\molWater}
	\cpdbox{C00020}{5.6}{3099}{251.5}{3211}{\molAMP}
	\cpdbox{C02188}{196.4}{3361}{380.6}{3489}{\molLysR}
	\cpdbox{C04604}{2725.7}{3093.5}{2870}{3216}{\molDicarb}
	\cpdbox{C01270}{2661.4}{3371.5}{2804}{3480.6}{\molHMP}
	\cpdbox{C00011e}{2827.6}{3398}{2900}{3453.6}{\molCOO}
	\cpdbox{blanka}{325.5}{3131}{397.4}{3179}{}
	\cpdbox{blankb}{100.5}{3401}{172.4}{3449}{}
	\node[draw,line width=1.2pt,ellipse,fill=yellow,minimum width=92pt,minimum height=47pt,inner sep=0pt,font=\rxnfont\fontsize{18}{18}\selectfont] (C00002e) at (1564,61.5) {C00002};
	% reactions
	\foreach \rid/\rx/\ry in {R01049/376/190,R01073/376/469,R01056/1977.5/317,R03509/781/793.5,R03508/1225/1088,R04209/1001/1368,R02722/1424/1368,R00678/856.5/1660,R04591/1435.5/1660,R07456/2143/1660,R01959/920.6/1963,R04559/1239.5/1963,R00173/2685/1964,R00987/491.75/2253.5,R06975/993.5/2253.5,R04560/1347/2253.5,R01709/2803/2253,R00990/371.8/2668,R01127/1092/2668,R00941/1772.5/2667.5,R02993/2798/2667.5,R00181/1019.5/3022,R04524/2798/3021,R03876/288.5/3288,R03461/2798/3288.5}
		\node[rxn] (\rid) at (\rx,\ry) {\rid};
	% straight connectors
	\foreach \a/\b in {C00002a/R01049,C00117/R01049,R01049/C00119,C00119/R01073,R01073/C00013,R01073/C04302,C04302/R03509,R03509/C01302,C01302/R03508,R03508/C03506,C03373/R04209,C03506/R02722,R04209/C04751,R02722/C00078,R01056/C00199,C00118/R07456,C00064/R07456,R07456/C00018,R07456/C00025,C00001c/R00173,R00173/C00250,C00250/R01709,R01709/C00847,C00847/R02993,C00003c/R02993,R02993/C00004,R02993/C06050,C06050/R04524,R04524/C04604,C04604/R03461,R03461/C01270,R03461/C00011e,C00130/R00181,R00181/C00001h,R01127/C00130,R01127/C00001f,C04734/R01127,R06975/C04734,R06975/C00009b,C00002c/R06975,C00058/R06975,C04677/R06975,R04559/C04677,C04823/R04559,R04591/C04823,R04591/C00003a,C00049/R04591,C00002b/R04591,C00007a/R00678,R00678/C02700,C02700/R01959,C00001d/R01959,C00328/R00987,R00987/C00041,C00108/R00990,R00990/C00011c,R00990/C00292,R04560/C00101,C00101/R00941,C00080a/R00941,C00005/R00941,R00941/C00006,R00941/C00001g,R00941/C00234,C00020/R03876,blanka/R03876,R03876/C02188,R03876/C00002d}
		\draw[link] (\a) -- (\b);
	% curved connectors
	\draw[link] (C00117) .. controls (1650,205) and (1800,230) .. (R01056);
	\draw[link] (R01049) .. controls (260,240) and (165,320) .. (152,480) .. controls (146,1200) and (146,2600) .. ([xshift=7.5pt]C00020.north);
	\draw[link] (C00013) .. controls (285,950) and (288,1100) .. (288,1300) -- (R03876);
	\draw[link] (C00108) .. controls (373,2200) and (375,1900) .. (376,1500) -- (R01073);
	\draw[link] (R03508) .. controls (1130,1120) and (1075,1150) .. (C00011a);
	\draw[link] (R03508) .. controls (1400,1105) and (1540,1130) .. (C00001a);
	\draw[link] (C00011b) .. controls (1085,1300) and (1075,1305) .. (R04209);
	\draw[link] (C00065) .. controls (1310,1297) and (1360,1330) .. (R02722);
	\draw[link] (R02722) .. controls (1650,1394) and (1830,1410) .. (C00001b);
	\draw[link] (R02722) .. controls (1700,1392) and (1880,1390) .. (C00118);
	\draw[link] (C00199) .. controls (2082,800) and (2085,1100) .. (2085,1400) .. controls (2087,1500) and (2100,1570) .. (R07456);
	\draw[link] (C00018) .. controls (2260,1905) and (2400,1930) .. (R00173);
	\draw[link] (R00173) .. controls (2747,2012) and (2790,2050) .. (C00009c);
	\draw[link] (C00001i) .. controls (2600,2210) and (2680,2240) .. (R01709);
	\draw[link] (C00007b) .. controls (2885,2160) and (2855,2195) .. (R01709);
	\draw[link] (R01709) .. controls (2880,2310) and (2915,2370) .. (C00027);
	\draw[link] (R02993) .. controls (2860,2730) and (2890,2770) .. (C00080b);
	\draw[link] (C00234) .. controls (2230,2745) and (2300,2680) .. (2330,2610) .. controls (2385,2500) and (2420,2390) .. (2339,2325) .. controls (2315,2300) and (2100,2290) .. (1700,2268) -- (R04560);
	\draw[link] (C00014) .. controls (2330,2910) and (2320,2945) .. (2270,2958) .. controls (2100,2995) and (1700,3000) .. (R00181);
	\draw[link] (R00181) .. controls (700,3035) and (306,3093) .. (C00020);
	\draw[link] (R06975) .. controls (880,2310) and (800,2370) .. (C00003b);
	\draw[link] (C04677) .. controls (1305,2195) and (1320,2215) .. (R04560);
	\draw[link] (R04559) .. controls (1330,2020) and (1380,2045) .. (C00122);
	\draw[link] (R04591) .. controls (1560,1685) and (1630,1720) .. (C00009a);
	\draw[link] (C04751) .. controls (1180,1620) and (1280,1640) .. (R04591);
	\draw[link] (C00078) .. controls (1100,1612) and (1000,1630) .. (R00678);
	\draw[link] (R01959) .. controls (760,1975) and (600,2010) .. (C00328);
	\draw[link] (R01959) .. controls (1000,2010) and (1030,2045) .. (C00058);
	\draw[link] (C00001e) .. controls (578,2180) and (545,2210) .. (R00987);
	\draw[link] (R00987) .. controls (435,2315) and (405,2370) .. (C00108);
	\draw[link] (R04560) .. controls (1240,2305) and (1190,2350) .. (C04734);
	\draw[link] (C00011d) .. controls (1830,2540) and (1810,2610) .. (R00941);
	\draw[link] (R03876) .. controls (205,3340) and (175,3370) .. (blankb);
\end{tikzpicture}
\end{document}
